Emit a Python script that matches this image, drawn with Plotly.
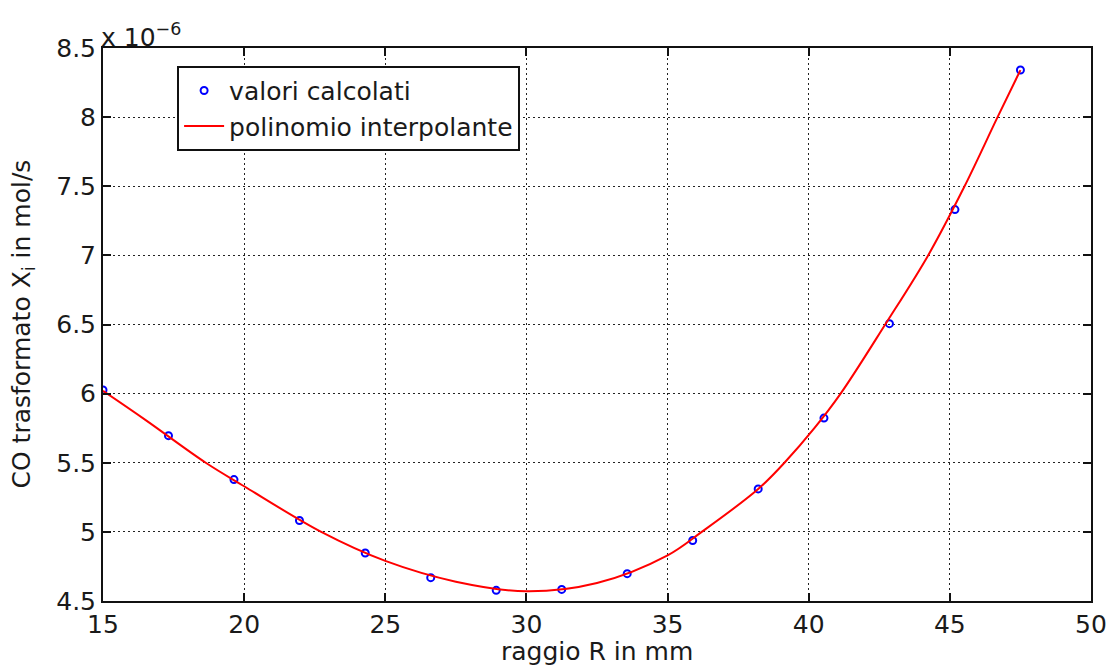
import plotly.graph_objects as go

# Calculated values (x in mm, y in units of 1e-6 mol/s)
raggio = [15, 17.32, 19.64, 21.96, 24.29, 26.61, 28.93, 31.25, 33.57, 35.89,
          38.21, 40.54, 42.86, 45.18, 47.5]
valori = [6.027, 5.696, 5.378, 5.082, 4.847, 4.669, 4.577, 4.584, 4.698, 4.938,
          5.311, 5.823, 6.506, 7.331, 8.341]

# Interpolating polynomial, samples
curva_x = [15, 16.5, 18.64, 20, 22.73, 25, 27.5, 30, 32.5, 35, 36.21, 38.21,
           39.14, 40.2, 41.13, 42.71, 44.23, 45.52, 46.69, 47.5]
curva_y = [6.02, 5.81, 5.50, 5.33, 5.00, 4.79, 4.64, 4.57, 4.63, 4.83, 5.00, 5.31,
           5.50, 5.75, 6.00, 6.50, 7.00, 7.50, 8.00, 8.34]

x_ticks = [15, 20, 25, 30, 35, 40, 45, 50]
y_ticks = [4.5, 5, 5.5, 6, 6.5, 7, 7.5, 8, 8.5]

FONT = "DejaVu Sans, Liberation Sans, Arial, sans-serif"
TXT = "#1a1a1a"
FS = 25

fig = go.Figure()
fig.add_trace(go.Scatter(
    x=raggio, y=valori, mode="markers", name="valori calcolati",
    marker=dict(symbol="circle-open", color="#0000ff", size=7,
                line=dict(width=2, color="#0000ff")),
))
fig.add_trace(go.Scatter(
    x=curva_x, y=curva_y, mode="lines", name="polinomio interpolante",
    line=dict(color="#ff0000", width=2, shape="spline", smoothing=1.0),
))

axis_common = dict(
    showline=True, linecolor="#111", linewidth=2, mirror="ticks",
    ticks="inside", ticklen=8, tickwidth=2, tickcolor="#111",
    showgrid=True, gridcolor="#222", gridwidth=1.2, griddash="2px,3px",
    zeroline=False, tickfont=dict(family=FONT, size=FS, color=TXT),
)

fig.update_xaxes(range=[15, 50], tickvals=x_ticks,
                 ticktext=[str(v) for v in x_ticks],
                 ticklabelstandoff=0,
                 **axis_common)
fig.update_yaxes(range=[4.5, 8.5], tickvals=y_ticks,
                 ticktext=[("%g" % v) for v in y_ticks],
                 ticklabelstandoff=0,
                 **axis_common)

# axis titles
fig.add_annotation(
    xref="paper", yref="paper", x=0.5, y=0, xanchor="center", yanchor="top",
    yshift=-34, text="raggio R in mm", showarrow=False,
    font=dict(family=FONT, size=FS, color=TXT),
)
fig.add_annotation(
    xref="paper", yref="paper", x=0, y=0.5, xanchor="center", yanchor="middle",
    xshift=-81, textangle=-90, text="CO trasformato X<sub>i</sub> in mol/s",
    showarrow=False, font=dict(family=FONT, size=FS, color=TXT),
)
# exponent label
fig.add_annotation(
    xref="paper", yref="paper", x=0, y=1, xanchor="left", yanchor="bottom",
    text="x 10<sup>−6</sup>", showarrow=False, yshift=-6, xshift=-4,
    font=dict(family=FONT, size=FS, color=TXT),
)

fig.update_layout(
    width=1119, height=666,
    margin=dict(l=103, r=20, t=48, b=65),
    paper_bgcolor="white", plot_bgcolor="white",
    showlegend=True,
    legend=dict(x=0.075, y=0.968, xanchor="left", yanchor="top",
                bgcolor="white", bordercolor="#111", borderwidth=2,
                font=dict(family=FONT, size=FS, color=TXT),
                itemwidth=40, tracegroupgap=0),
)

fig.write_html("out.html")
